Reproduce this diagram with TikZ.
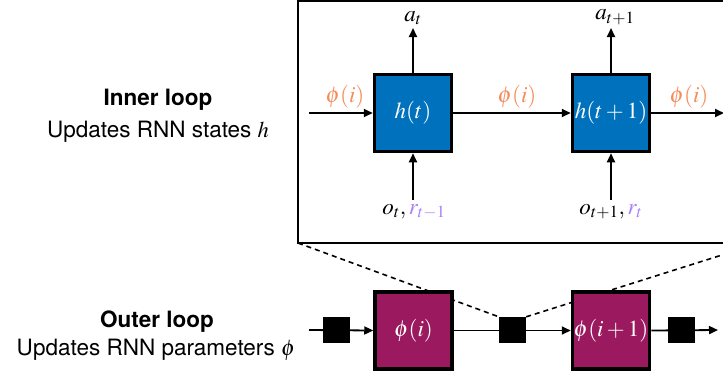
\documentclass[tikz,border=0pt]{standalone}
\usepackage{mathptmx}
\usepackage[no-math]{fontspec}
\setmainfont{TeX Gyre Heros}
\usetikzlibrary{arrows.meta}
\definecolor{hblue}{RGB}{0,114,189}
\definecolor{pmag}{RGB}{155,25,95}
\definecolor{phiorange}{RGB}{245,140,90}
\definecolor{rpurple}{RGB}{170,130,250}
\tikzset{
  arr/.style={line width=1.8pt,-{Triangle[length=9pt,width=8pt]}},
  stateb/.style={draw=black,line width=3.5pt,fill=hblue,minimum width=77pt,minimum height=77pt,inner sep=0pt,text=white,font=\fontsize{23}{27}\selectfont},
  paramb/.style={draw=black,line width=3.5pt,fill=pmag,minimum width=77pt,minimum height=77pt,inner sep=0pt,text=white,font=\fontsize{23}{27}\selectfont},
  sq/.style={fill=black,minimum width=27pt,minimum height=26pt,inner sep=0pt},
  lbl/.style={font=\fontsize{23}{27}\selectfont,inner sep=0pt},
  olbl/.style={lbl,text=phiorange},
  dashline/.style={line width=1.6pt,dash pattern=on 5pt off 4pt},
  ttl/.style={font=\fontsize{22.5}{27}\selectfont\bfseries,inner sep=0pt},
  sub/.style={font=\fontsize{22.5}{27}\selectfont,inner sep=0pt}
}
\begin{document}
\begin{tikzpicture}[x=1pt,y=-1pt]
\useasboundingbox (0,0) rectangle (723,376);
\clip (0,0) rectangle (723,376);
% inner box
\draw[line width=1.2pt] (298,1) rectangle (760,243);
\coordinate (ibl) at (298,243);
\coordinate (ibr) at (760,243);
% outer loop squares (positions)
\coordinate (c1) at (336.5,330);
\coordinate (c2) at (512.5,330);
\coordinate (c3) at (681.5,330);
\node[sq] (s2) at (c2) {};
% dashed lines (behind boxes)
\draw[dashline] (ibl) -- (s2.north west);
\draw[dashline] (s2.north east) -- (ibr);
% outer loop boxes
\node[paramb] (p1) at (413.5,330.5) {$\phi(i)$};
\node[paramb] (p2) at (611,330.5) {$\phi(i+1)$};
\coordinate (oin) at (309,330);
\coordinate (oout) at (718,330);
\draw[arr] (oin) -- (p1.west);
\draw[arr] (p1.east) -- (p2.west);
\draw[arr] (p2.east) -- (oout);
\node[sq] (s1) at (c1) {};
\node[sq] (s2b) at (c2) {};
\node[sq] (s3) at (c3) {};
% inner loop nodes
\node[stateb] (h1) at (413,113) {$h(t)$};
\node[stateb] (h2) at (611,113) {$h(t+1)$};
\coordinate (iin) at (309,113);
\coordinate (iout) at (724,113);
\draw[arr] (iin) -- (h1.west);
\draw[arr] (h1.east) -- (h2.west);
\draw[arr] (h2.east) -- (iout);
\node[olbl] (l1) at (345,97) {$\phi(i)$};
\node[olbl] (l2) at (517,97) {$\phi(i)$};
\node[olbl] (l3) at (689,97) {$\phi(i)$};
\coordinate (a1) at (413,28);
\coordinate (a2) at (611,28);
\node[lbl,anchor=south] (at1) at (413,25) {$a_t$};
\node[lbl,anchor=south] (at2) at (615,25) {$a_{t+1}$};
\draw[arr] (h1.north) -- (a1);
\draw[arr] (h2.north) -- (a2);
\coordinate (b1) at (413,200);
\coordinate (b2) at (611,200);
\node[lbl,anchor=north] (o1) at (414,204) {$o_t,\textcolor{rpurple}{r_{t-1}}$};
\node[lbl,anchor=north] (o2) at (611,204) {$o_{t+1},\textcolor{rpurple}{r_t}$};
\draw[arr] (b1) -- (h1.south);
\draw[arr] (b2) -- (h2.south);
% left texts
\node[ttl] (it) at (158,100) {Inner loop};
\node[sub] (is) at (158,132) {Updates RNN states $h$};
\node[ttl] (ot) at (157,322) {Outer loop};
\node[sub] (os) at (156,350) {Updates RNN parameters $\phi$};
\end{tikzpicture}
\end{document}
